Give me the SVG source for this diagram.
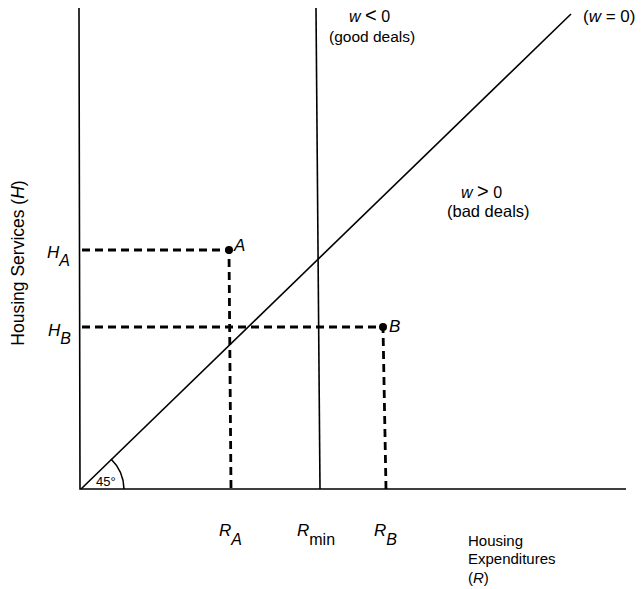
<svg xmlns="http://www.w3.org/2000/svg" width="642" height="589" viewBox="0 0 642 589" font-size="15">
<style>
text{font-family:"Liberation Sans",Arial,sans-serif;fill:#000}
.it{font-style:italic}
.ax{stroke:#000;stroke-width:1.6;fill:none}
.dash{stroke:#000;stroke-width:2.8;stroke-dasharray:8,5;fill:none}
</style>
<rect width="642" height="589" fill="#fff"/>
<g id="connectors">
<path class="ax" d="M79,8 L80,489 L626,489"/>
<path class="ax" d="M81,489 L571,14"/>
<path class="ax" d="M316,8 L320,489"/>
<path class="ax" d="M124,489 A43,43 0 0 0 111,459"/>
<path class="dash" d="M82,250 L229,250 L231,489"/>
<path class="dash" d="M82,327 L383,327 L386,489"/>
</g>
<g id="pointA"><circle cx="229" cy="250" r="4"/><text class="it" x="234" y="251" font-size="17">A</text></g>
<g id="pointB"><circle cx="383" cy="327" r="4"/><text class="it" x="389" y="332" font-size="17">B</text></g>
<g id="ylabel"><text transform="translate(24,263) rotate(-90)" text-anchor="middle" font-size="17.5">Housing Services (<tspan class="it">H</tspan>)</text></g>
<g id="HA"><text class="it" x="47" y="258" font-size="17">H<tspan dy="8" font-size="16">A</tspan></text></g>
<g id="HB"><text class="it" x="48" y="336" font-size="17">H<tspan dy="8" font-size="16">B</tspan></text></g>
<g id="angle"><text x="96" y="486" font-size="13">45°</text></g>
<g id="RA"><text class="it" x="219" y="536" font-size="17">R<tspan dy="9" font-size="16">A</tspan></text></g>
<g id="Rmin"><text x="297" y="536" font-size="17"><tspan class="it">R</tspan><tspan dy="9" font-size="16">min</tspan></text></g>
<g id="RB"><text class="it" x="374" y="536" font-size="17">R<tspan dy="9" font-size="16">B</tspan></text></g>
<g id="xlabel"><text x="468" y="546">Housing</text><text x="468" y="564">Expenditures</text><text x="468" y="583">(<tspan class="it">R</tspan>)</text></g>
<g id="goodDeals"><text x="349" y="22" font-size="16"><tspan class="it">w</tspan> <tspan font-size="20">&lt;</tspan> 0</text><text x="329" y="42" font-size="15.5">(good deals)</text></g>
<g id="badDeals"><text x="461" y="198" font-size="16"><tspan class="it">w</tspan> <tspan font-size="20">&gt;</tspan> 0</text><text x="447" y="217" font-size="16.5">(bad deals)</text></g>
<g id="w0"><text x="583" y="22" font-size="17">(<tspan class="it">w</tspan> = 0)</text></g>
</svg>
